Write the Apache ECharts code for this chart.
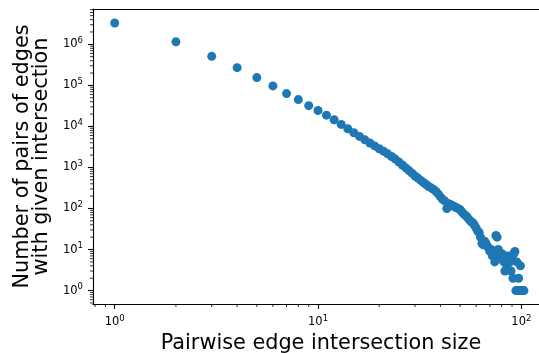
<!DOCTYPE html>
<html>
<head>
<meta charset="utf-8">
<script src="https://cdn.jsdelivr.net/npm/echarts@6/dist/echarts.min.js"></script>
<style>
html,body{margin:0;padding:0;background:#fff;}
#chart{width:539px;height:353px;}
</style>
</head>
<body>
<div id="chart"></div>
<script>
// Intersection sizes (x) and number of edge pairs (y)
const intersectionSizes = [];
for (let n = 1; n <= 103; n++) intersectionSizes.push(n);
const pairCounts = [
  3300000, 1150000, 510000, 270000, 155000, 97000, 63000, 45000, 32000, 24500,
  18800, 14500, 11200, 8800, 7000, 5700, 4700, 3950, 3350, 2850,
  2500, 2150, 1850, 1600, 1360, 1150, 980, 840, 725, 620,
  550, 483, 430, 384, 343, 317, 292, 261, 227, 192,
  167, 153, 100, 130, 123, 116, 110, 104, 99, 93,
  83, 74, 68, 63, 56, 50, 47, 44, 38, 33,
  28, 26, 20, 14, 13, 16, 14, 12, 11, 9,
  10, 7, 9, 5, 22, 20, 10, 7, 6, 8,
  6, 5, 3, 7, 4, 6, 7, 5, 3, 6,
  2, 8, 9, 1, 5, 1, 2, 1, 4, 1,
  1, 1, 1
];
const xTickExponents = [0, 1, 2];
const yTickExponents = [0, 1, 2, 3, 4, 5, 6];
const xLabel = 'Pairwise edge intersection size';
const yLabel = 'Number of pairs of edges\nwith given intersection';

const X_MIN = 0.782, X_MAX = 136.8;
const Y_MIN = 0.471, Y_MAX = 7.26e6;

const scatterData = intersectionSizes.map((x, i) => [x, pairCounts[i]]);

function minorList(lo, hi) {
  const out = [];
  for (let k = -2; k <= 8; k++) {
    for (let m = 2; m <= 9; m++) {
      const v = m * Math.pow(10, k);
      if (v >= lo && v <= hi) out.push(v);
    }
  }
  return out;
}
const xMinor = minorList(X_MIN, X_MAX).map(v => [v, Y_MIN]);
const yMinor = minorList(Y_MIN, Y_MAX).map(v => [X_MIN, v]);

function powLabel(v) {
  const e = Math.log10(v);
  const r = Math.round(e);
  if (Math.abs(e - r) > 1e-6) return '';
  return '10{s|' + r + '}';
}
const richSup = {
  s: { fontSize: 8.5, verticalAlign: 'top', padding: [0, 0, 7, 0], color: '#000', fontFamily: 'DejaVu Sans' }
};

const chart = echarts.init(document.getElementById('chart'), null, { renderer: 'canvas' });
chart.setOption({
  animation: false,
  backgroundColor: '#fff',
  textStyle: { fontFamily: 'DejaVu Sans' },
  grid: { left: 93, top: 9, right: -10, bottom: 49, containLabel: false, outerBoundsMode: 'none', show: false },
  xAxis: [{
    type: 'log', logBase: 10, min: X_MIN, max: X_MAX,
    name: xLabel, nameLocation: 'middle', nameGap: 28,
    nameTextStyle: { fontSize: 20.8, color: '#000', fontFamily: 'DejaVu Sans' },
    axisLine: { show: true, lineStyle: { color: '#000', width: 1.1 } },
    axisTick: { show: true, length: 5, lineStyle: { color: '#000', width: 1.1 } },
    axisLabel: { show: true, margin: 10, fontSize: 11.5, color: '#000', fontFamily: 'DejaVu Sans', formatter: powLabel, rich: richSup, showMinLabel: false, showMaxLabel: false },
    splitLine: { show: false }, minorTick: { show: false }
  }, {
    type: 'log', logBase: 10, min: X_MIN, max: X_MAX, position: 'top',
    axisLine: { show: true, lineStyle: { color: '#000', width: 1.1 } },
    axisTick: { show: false }, axisLabel: { show: false }, splitLine: { show: false }
  }],
  yAxis: {
    type: 'log', logBase: 10, min: Y_MIN, max: Y_MAX,
    name: yLabel, nameLocation: 'middle', nameGap: 33, nameRotate: 90,
    nameTextStyle: { fontSize: 20.8, color: '#000', fontFamily: 'DejaVu Sans', lineHeight: 19, align: 'center' },
    axisLine: { show: true, lineStyle: { color: '#000', width: 1.1 } },
    axisTick: { show: true, length: 5, lineStyle: { color: '#000', width: 1.1 } },
    axisLabel: { show: true, margin: 10, fontSize: 11.5, color: '#000', fontFamily: 'DejaVu Sans', formatter: powLabel, rich: richSup, showMinLabel: false, showMaxLabel: false },
    splitLine: { show: false }, minorTick: { show: false }
  },
  series: [
    {
      type: 'scatter', data: scatterData, symbolSize: 9,
      itemStyle: { color: '#1f77b4', opacity: 1 }, z: 3, silent: true
    },
    {
      type: 'custom', data: xMinor, silent: true, clip: false, z: 4,
      renderItem: function (params, api) {
        const cs = params.coordSys;
        const p = api.coord([api.value(0), api.value(1)]);
        const yb = cs.y + cs.height;
        return { type: 'line', shape: { x1: p[0], y1: yb, x2: p[0], y2: yb + 3 }, style: { stroke: '#000', lineWidth: 0.8 } };
      }
    },
    {
      type: 'custom', data: yMinor, silent: true, clip: false, z: 4,
      renderItem: function (params, api) {
        const cs = params.coordSys;
        const p = api.coord([api.value(0), api.value(1)]);
        return { type: 'line', shape: { x1: cs.x - 3, y1: p[1], x2: cs.x, y2: p[1] }, style: { stroke: '#000', lineWidth: 0.8 } };
      }
    }
  ]
});
</script>
</body>
</html>
